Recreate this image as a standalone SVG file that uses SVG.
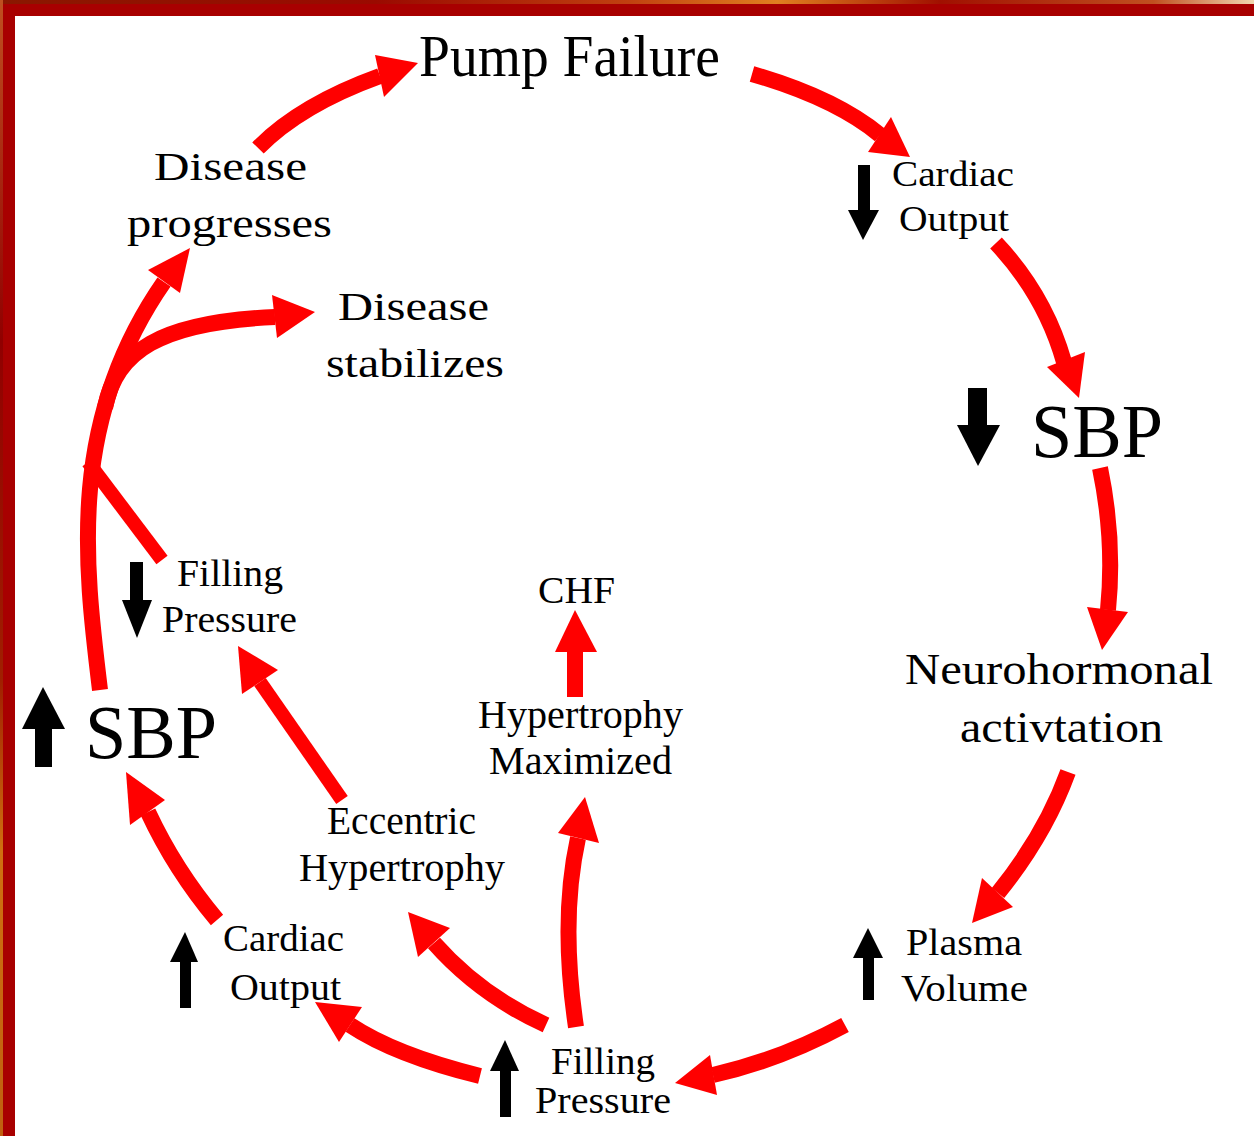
<svg xmlns="http://www.w3.org/2000/svg" width="1254" height="1136" viewBox="0 0 1254 1136">
<defs>
<linearGradient id="gTop" x1="0" y1="0" x2="1" y2="0">
<stop offset="0" stop-color="#8a1800"/><stop offset="0.3" stop-color="#9a0a00"/><stop offset="0.5" stop-color="#c04010"/><stop offset="0.62" stop-color="#e08020"/><stop offset="0.75" stop-color="#a01000"/><stop offset="0.92" stop-color="#c05020"/><stop offset="1" stop-color="#f0d8b0"/>
</linearGradient>
<linearGradient id="gLeft" x1="0" y1="0" x2="0" y2="1">
<stop offset="0" stop-color="#c05020"/><stop offset="0.3" stop-color="#900000"/><stop offset="0.6" stop-color="#a02000"/><stop offset="0.75" stop-color="#d07010"/><stop offset="1" stop-color="#c06010"/>
</linearGradient>
<style>
.t{font-family:"Liberation Serif","Times New Roman",serif;fill:#000}
.sh{fill:none;stroke:#ff0000;stroke-width:16;stroke-linecap:butt}
.hd{fill:#ff0000}
.bk{fill:#000}
</style>
</defs>
<rect width="1254" height="1136" fill="#ffffff"/>
<g id="frame">
<rect x="0" y="0" width="1254" height="16" fill="#a80000"/>
<rect x="0" y="0" width="15" height="1136" fill="#a80000"/>
<rect x="0" y="0" width="1254" height="4" fill="url(#gTop)"/>
<rect x="0" y="0" width="3" height="1136" fill="url(#gLeft)"/>
</g>
<g id="connectors">
<path class="sh" d="M258,148 Q300,105 380,76"/><polygon class="hd" points="418,63 375,55 384,97"/>
<path class="sh" d="M752,74 Q835,98 880,135"/><polygon class="hd" points="910,157 891,117 868,152"/>
<path class="sh" d="M996,243 Q1045,295 1064,362"/><polygon class="hd" points="1079,398 1047,367 1085,352"/>
<path class="sh" d="M1100,468 Q1115,540 1108,610"/><polygon class="hd" points="1102,650 1087,607 1128,612"/>
<path class="sh" d="M1068,772 Q1045,835 998,893"/><polygon class="hd" points="972,923 982,878 1013,907"/>
<path class="sh" d="M845,1025 Q780,1060 713,1075"/><polygon class="hd" points="675,1083 710,1055 717,1095"/>
<path class="sh" d="M480,1076 Q395,1055 350,1025"/><polygon class="hd" points="315,1002 362,1007 339,1042"/>
<path class="sh" d="M546,1025 Q480,995 434,943"/><polygon class="hd" points="408,912 450,928 418,957"/>
<path class="sh" d="M576,1027 Q560,920 578,838"/><polygon class="hd" points="585,797 558,833 599,843"/>
<path class="sh" d="M575,697 L575,650"/><polygon class="hd" points="575,610 555,652 597,652"/>
<path class="sh" style="stroke-width:14" d="M342,800 L260,682"/><polygon class="hd" points="238,646 278,670 242,694"/>
<path class="sh" d="M217,920 Q175,870 148,812"/><polygon class="hd" points="126,772 165,800 130,825"/>
<path class="sh" d="M100,690 C84,560 68,420 164,282"/><polygon class="hd" points="190,248 148,270 180,293"/>
<path class="sh" d="M105,408 C115,352 160,322 275,317"/><polygon class="hd" points="315,312 272,295 277,338"/>
<path class="sh" style="stroke-width:14" d="M88,462 L162,560"/>
</g>
<g id="n-pump"><text class="t" x="419" y="76" font-size="60" textLength="301" lengthAdjust="spacingAndGlyphs">Pump Failure</text></g>
<g id="n-co-down">
<rect class="bk" x="858" y="165" width="12" height="46"/><polygon class="bk" points="848,210 879,210 863,240"/>
<text class="t" x="892" y="186" font-size="35" textLength="122" lengthAdjust="spacingAndGlyphs">Cardiac</text>
<text class="t" x="899" y="231" font-size="35" textLength="110" lengthAdjust="spacingAndGlyphs">Output</text>
</g>
<g id="n-sbp-down">
<rect class="bk" x="968" y="388" width="19" height="38"/><polygon class="bk" points="957,425 1000,425 978,466"/>
<text class="t" x="1031" y="457" font-size="76" textLength="132" lengthAdjust="spacingAndGlyphs">SBP</text>
</g>
<g id="n-neuro">
<text class="t" x="905" y="684" font-size="45" textLength="308" lengthAdjust="spacingAndGlyphs">Neurohormonal</text>
<text class="t" x="960" y="742" font-size="45" textLength="203" lengthAdjust="spacingAndGlyphs">activtation</text>
</g>
<g id="n-plasma">
<polygon class="bk" points="868,928 853,958 883,958"/><rect class="bk" x="863" y="957" width="11" height="43"/>
<text class="t" x="906" y="955" font-size="37" textLength="116" lengthAdjust="spacingAndGlyphs">Plasma</text>
<text class="t" x="901" y="1001" font-size="37" textLength="127" lengthAdjust="spacingAndGlyphs">Volume</text>
</g>
<g id="n-fp-up">
<polygon class="bk" points="505,1040 490,1071 519,1071"/><rect class="bk" x="500" y="1070" width="11" height="47"/>
<text class="t" x="551" y="1074" font-size="37" textLength="104" lengthAdjust="spacingAndGlyphs">Filling</text>
<text class="t" x="535" y="1113" font-size="37" textLength="136" lengthAdjust="spacingAndGlyphs">Pressure</text>
</g>
<g id="n-co-up">
<polygon class="bk" points="185,932 170,962 198,962"/><rect class="bk" x="180" y="961" width="11" height="47"/>
<text class="t" x="223" y="951" font-size="37" textLength="121" lengthAdjust="spacingAndGlyphs">Cardiac</text>
<text class="t" x="230" y="1000" font-size="37" textLength="111" lengthAdjust="spacingAndGlyphs">Output</text>
</g>
<g id="n-sbp-up">
<polygon class="bk" points="43,687 22,729 65,729"/><rect class="bk" x="35" y="728" width="17" height="39"/>
<text class="t" x="85" y="758" font-size="76" textLength="132" lengthAdjust="spacingAndGlyphs">SBP</text>
</g>
<g id="n-fp-down">
<rect class="bk" x="130" y="562" width="13" height="39"/><polygon class="bk" points="122,600 152,600 137,638"/>
<text class="t" x="177" y="586" font-size="37" textLength="106" lengthAdjust="spacingAndGlyphs">Filling</text>
<text class="t" x="162" y="632" font-size="37" textLength="135" lengthAdjust="spacingAndGlyphs">Pressure</text>
</g>
<g id="n-progresses">
<text class="t" x="154" y="180" font-size="40" textLength="153" lengthAdjust="spacingAndGlyphs">Disease</text>
<text class="t" x="127" y="237" font-size="40" textLength="205" lengthAdjust="spacingAndGlyphs">progresses</text>
</g>
<g id="n-stabilizes">
<text class="t" x="338" y="320" font-size="40" textLength="151" lengthAdjust="spacingAndGlyphs">Disease</text>
<text class="t" x="326" y="377" font-size="40" textLength="178" lengthAdjust="spacingAndGlyphs">stabilizes</text>
</g>
<g id="n-chf"><text class="t" x="538" y="603" font-size="38" textLength="77" lengthAdjust="spacingAndGlyphs">CHF</text></g>
<g id="n-hypmax">
<text class="t" x="478" y="728" font-size="40" textLength="205" lengthAdjust="spacingAndGlyphs">Hypertrophy</text>
<text class="t" x="489" y="774" font-size="40" textLength="183" lengthAdjust="spacingAndGlyphs">Maximized</text>
</g>
<g id="n-ecc">
<text class="t" x="327" y="834" font-size="40" textLength="149" lengthAdjust="spacingAndGlyphs">Eccentric</text>
<text class="t" x="299" y="881" font-size="40" textLength="206" lengthAdjust="spacingAndGlyphs">Hypertrophy</text>
</g>
</svg>
